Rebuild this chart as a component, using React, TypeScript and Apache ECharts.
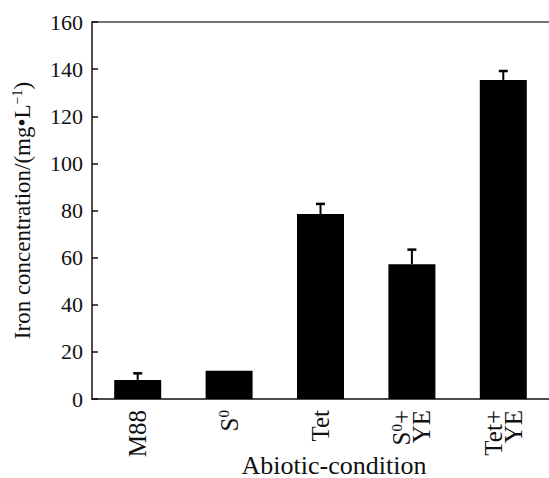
import React, { useEffect, useRef } from "react";
import * as echarts from "echarts";

const categories = ["M88", "S{sup|0}", "Tet", "S{sup|0}+\nYE", "Tet+\nYE"];
const values = [8.1, 12.0, 78.5, 57.2, 135.4];
const errors = [2.8, 0, 4.3, 6.2, 3.8];
const yTicks = { min: 0, max: 160, interval: 20 };

const FONT = "'Liberation Serif', 'Times New Roman', serif";

export default function App() {
  const ref = useRef<HTMLDivElement>(null);
  useEffect(() => {
    if (!ref.current) return;
    const chart = echarts.init(ref.current, null, { renderer: "svg" });
    const errData = values.map((v, i) => [i, v, errors[i]]);
    chart.setOption({
      animation: false,
      textStyle: { fontFamily: FONT, color: "#111" },
      grid: { left: 92, right: -8, top: 22, bottom: 79 },
      xAxis: [
        {
          type: "category",
          data: categories,
          position: "bottom",
          axisLine: { lineStyle: { color: "#111", width: 1.5 } },
          axisTick: { show: false },
          axisLabel: {
            rotate: 90,
            margin: 11,
            fontSize: 25,
            fontFamily: FONT,
            color: "#111",
            lineHeight: 20,
            rich: {
              sup: { fontSize: 15, fontFamily: FONT, color: "#111", padding: [0, 0, 10, 0], lineHeight: 20 },
            },
          },
        },
        {
          type: "category",
          data: categories,
          position: "top",
          axisLine: { lineStyle: { color: "#444", width: 1.5 } },
          axisTick: { show: false },
          axisLabel: { show: false },
        },
      ],
      yAxis: {
        type: "value",
        min: yTicks.min,
        max: yTicks.max,
        interval: yTicks.interval,
        name: "Iron concentration/(mg•L{sup|−1})",
        nameLocation: "middle",
        nameGap: 58,
        nameRotate: 90,
        nameTextStyle: {
          fontSize: 23,
          fontFamily: FONT,
          color: "#111",
          rich: {
            sup: { fontSize: 14, fontFamily: FONT, color: "#111", padding: [0, 0, 10, 0] },
          },
        },
        axisLine: { show: true, lineStyle: { color: "#111", width: 1.5 } },
        axisTick: { show: true, inside: true, length: 6, lineStyle: { color: "#111", width: 1.5 } },
        axisLabel: {
          show: true,
          formatter: "{v|{value}}",
          margin: 9,
          rich: {
            v: { fontSize: 22, fontFamily: FONT, color: "#111" },
          },
        },
        splitLine: { show: false },
      },
      graphic: [
        {
          type: "text",
          x: 334,
          y: 465,
          style: {
            text: "Abiotic-condition",
            font: "26px " + FONT,
            fill: "#111",
            align: "center",
            verticalAlign: "middle",
          },
        },
      ],
      series: [
        {
          type: "bar",
          data: values,
          barWidth: 47,
          itemStyle: { color: "#000" },
          z: 2,
        },
        {
          type: "custom",
          data: errData,
          z: 3,
          renderItem: (params: any, api: any) => {
            const x = api.value(0);
            const v = api.value(1);
            const e = api.value(2);
            if (!e) return { type: "group", children: [] };
            const base = api.coord([x, v]);
            const top = api.coord([x, v + e]);
            const style = { stroke: "#000", lineWidth: 2 };
            return {
              type: "group",
              children: [
                { type: "line", shape: { x1: base[0], y1: base[1], x2: top[0], y2: top[1] }, style },
                { type: "line", shape: { x1: top[0] - 4.5, y1: top[1], x2: top[0] + 4.5, y2: top[1] }, style: { stroke: "#000", lineWidth: 2.5 } },
              ],
            };
          },
        },
      ],
    });
    return () => chart.dispose();
  }, []);
  return <div ref={ref} style={{ width: 549, height: 478, position: "absolute", left: 0, top: 0 }} />;
}
